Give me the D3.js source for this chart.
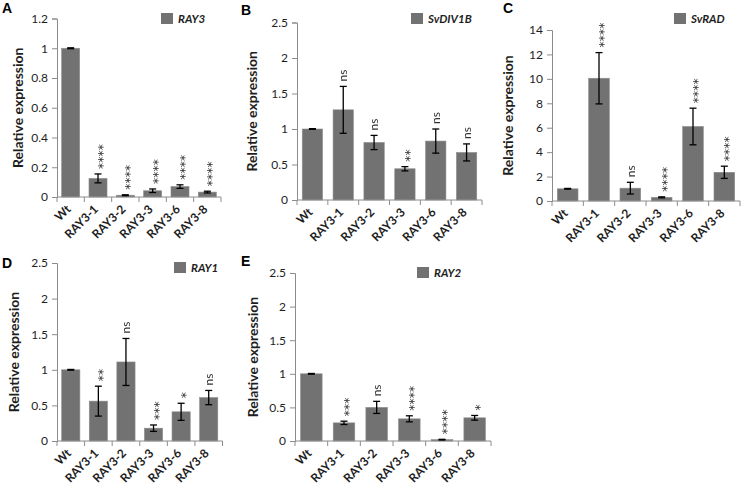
<!DOCTYPE html>
<html>
<head>
<meta charset="utf-8">
<script src="https://cdn.jsdelivr.net/npm/d3@7"></script>
<style>
  body { margin: 0; background: #fff; }
  svg { display: block; font-family: Lato, "Open Sans", sans-serif; }
</style>
</head>
<body>
<svg id="chart" width="742" height="485"></svg>
<script>
// genotypes on the x axis (same for every panel)
var categories = ["Wt", "RAY3-1", "RAY3-2", "RAY3-3", "RAY3-6", "RAY3-8"];

// A - RAY3
var ray3Mean = [1.0, 0.125, 0.012, 0.042, 0.07, 0.033];
var ray3Err  = [0.003, 0.03, 0.003, 0.012, 0.012, 0.006];
var ray3Sig  = ["", "****", "****", "****", "****", "****"];

// B - SvDIV1B
var div1bMean = [1.0, 1.27, 0.81, 0.44, 0.83, 0.67];
var div1bErr  = [0.005, 0.33, 0.1, 0.03, 0.17, 0.12];
var div1bSig  = ["", "ns", "ns", "**", "ns", "ns"];

// C - SvRAD
var radMean = [1.0, 10.05, 1.05, 0.3, 6.1, 2.35];
var radErr  = [0.03, 2.1, 0.48, 0.04, 1.5, 0.5];
var radSig  = ["", "****", "ns", "****", "****", "****"];

// D - RAY1
var ray1Mean = [1.0, 0.56, 1.11, 0.18, 0.41, 0.61];
var ray1Err  = [0.005, 0.21, 0.33, 0.045, 0.12, 0.1];
var ray1Sig  = ["", "**", "ns", "***", "*", "ns"];

// E - RAY2
var ray2Mean = [1.0, 0.27, 0.5, 0.33, 0.02, 0.345];
var ray2Err  = [0.005, 0.025, 0.09, 0.045, 0.005, 0.035];
var ray2Sig  = ["", "***", "ns", "****", "****", "*"];

var yTicksA = [0, 0.2, 0.4, 0.6, 0.8, 1, 1.2];
var yTicksHalf = [0, 0.5, 1, 1.5, 2, 2.5];
var yTicksC = [0, 2, 4, 6, 8, 10, 12, 14];

// panel layout (pixel boxes)
var panels = [
  {letter: "A", gene: "RAY3", mean: ray3Mean, err: ray3Err, sig: ray3Sig, ticks: yTicksA,
   x0: 57, x1: 221, yb: 197, yt: 18.5, lx: 2, ly: 13, tx: 18, legX: 161, legY: 13},
  {letter: "B", gene: "SvDIV1B", mean: div1bMean, err: div1bErr, sig: div1bSig, ticks: yTicksHalf,
   x0: 297, x1: 482, yb: 200, yt: 22.5, lx: 241, ly: 15, tx: 252, legX: 411, legY: 13},
  {letter: "C", gene: "SvRAD", mean: radMean, err: radErr, sig: radSig, ticks: yTicksC,
   x0: 552, x1: 740, yb: 201, yt: 30, lx: 503, ly: 13, tx: 508, legX: 674, legY: 13},
  {letter: "D", gene: "RAY1", mean: ray1Mean, err: ray1Err, sig: ray1Sig, ticks: yTicksHalf,
   x0: 57, x1: 222.5, yb: 441, yt: 263, lx: 2, ly: 268, tx: 14, legX: 174, legY: 262},
  {letter: "E", gene: "RAY2", mean: ray2Mean, err: ray2Err, sig: ray2Sig, ticks: yTicksHalf,
   x0: 295, x1: 491, yb: 441, yt: 273, lx: 241, ly: 266, tx: 253, legX: 417, legY: 267}
];

var svg = d3.select("#chart");
var barColor = "#727272";
var axisColor = "#8c8c8c";
var textColor = "#1e1e1e";

// grey filter: keeps the small rotated labels free of colour fringes
svg.append("defs").append("filter")
  .attr("id", "grey")
  .append("feColorMatrix")
  .attr("type", "saturate")
  .attr("values", 0);

panels.forEach(function(p) {
  var g = svg.append("g");

  var x = d3.scaleBand()
    .domain(categories)
    .range([p.x0, p.x1])
    .paddingInner(0.34)
    .paddingOuter(0.17);

  var y = d3.scaleLinear()
    .domain([0, d3.max(p.ticks)])
    .range([p.yb, p.yt]);

  // y axis
  var yAxis = d3.axisLeft(y)
    .tickValues(p.ticks)
    .tickSizeOuter(0)
    .tickSize(5)
    .tickPadding(4)
    .tickFormat(function(d) { return +d.toFixed(1); });

  var ya = g.append("g")
    .attr("transform", "translate(" + p.x0 + ",0)")
    .call(yAxis);
  ya.select(".domain").attr("stroke", axisColor);
  ya.selectAll(".tick line").attr("stroke", axisColor);
  ya.selectAll(".tick text")
    .attr("fill", textColor)
    .style("font-size", "12px")
    .style("font-family", "Lato, sans-serif");

  // bars
  g.selectAll("rect.bar")
    .data(p.mean)
    .enter()
    .append("rect")
    .attr("class", "bar")
    .attr("x", function(d, i) { return x(categories[i]); })
    .attr("width", x.bandwidth())
    .attr("y", function(d) { return y(d); })
    .attr("height", function(d) { return p.yb - y(d); })
    .attr("fill", barColor)
    .attr("stroke", "#8e8e8e")
    .attr("stroke-width", 0.6);

  // x axis line + ticks between categories
  g.append("line")
    .attr("x1", p.x0).attr("x2", p.x1)
    .attr("y1", p.yb).attr("y2", p.yb)
    .attr("stroke", axisColor);

  var step = x.step();
  d3.range(categories.length + 1).forEach(function(k) {
    var xx = x.range()[0] + k * step;
    g.append("line")
      .attr("x1", xx).attr("x2", xx)
      .attr("y1", p.yb).attr("y2", p.yb + 5)
      .attr("stroke", axisColor);
  });

  // error bars + significance labels
  var sg = g.append("g").attr("filter", "url(#grey)");
  p.mean.forEach(function(m, i) {
    var cx = x(categories[i]) + x.bandwidth() / 2;
    var hi = y(m + p.err[i]), lo = y(Math.max(0, m - p.err[i]));
    var eg = g.append("g").attr("stroke", "#000").attr("stroke-width", 1.3);
    eg.append("line").attr("x1", cx).attr("x2", cx).attr("y1", hi).attr("y2", lo);
    eg.append("line").attr("x1", cx - 3.5).attr("x2", cx + 3.5).attr("y1", hi).attr("y2", hi);
    eg.append("line").attr("x1", cx - 3.5).attr("x2", cx + 3.5).attr("y1", lo).attr("y2", lo);

    var s = p.sig[i];
    if (!s) return;
    var stars = s !== "ns";
    sg.append("text")
      .attr("transform", "translate(" + cx + "," + (hi - 5) + ") rotate(-90)")
      .attr("text-anchor", "start")
      .attr("dy", stars ? "0.72em" : "0.35em")
      .attr("fill", "#333")
      .style("font-size", stars ? "12.5px" : "12px")
      .style("font-family", stars ? "DejaVu Sans, sans-serif" : "Lato, sans-serif")
      .text(s);
  });

  // x tick labels (rotated)
  categories.forEach(function(c) {
    var cx = x(c) + x.bandwidth() / 2;
    g.append("text")
      .attr("transform", "translate(" + (cx + 1) + "," + (p.yb + 13) + ") rotate(-45)")
      .attr("text-anchor", "end")
      .attr("fill", textColor)
      .style("font-size", "12px")
      .style("font-weight", "bold")
      .text(c);
  });

  // y axis title
  g.append("text")
    .attr("transform", "translate(" + p.tx + "," + ((p.yb + p.yt) / 2) + ") rotate(-90)")
    .attr("text-anchor", "middle")
    .attr("dy", "0.35em")
    .attr("fill", textColor)
    .style("font-size", "14px")
    .style("font-weight", "bold")
    .text("Relative expression");

  // legend
  g.append("rect")
    .attr("x", p.legX).attr("y", p.legY)
    .attr("width", 12).attr("height", 11)
    .attr("fill", barColor);
  g.append("text")
    .attr("x", p.legX + 17).attr("y", p.legY + 10)
    .attr("fill", textColor)
    .style("font-size", "11.5px")
    .style("font-weight", "bold")
    .style("font-style", "italic")
    .text(p.gene);

  // panel letter
  g.append("text")
    .attr("x", p.lx).attr("y", p.ly)
    .attr("fill", "#000")
    .style("font-size", "14px")
    .style("font-weight", "bold")
    .style("font-family", "Liberation Sans, Arial, sans-serif")
    .text(p.letter);
});
</script>
</body>
</html>
